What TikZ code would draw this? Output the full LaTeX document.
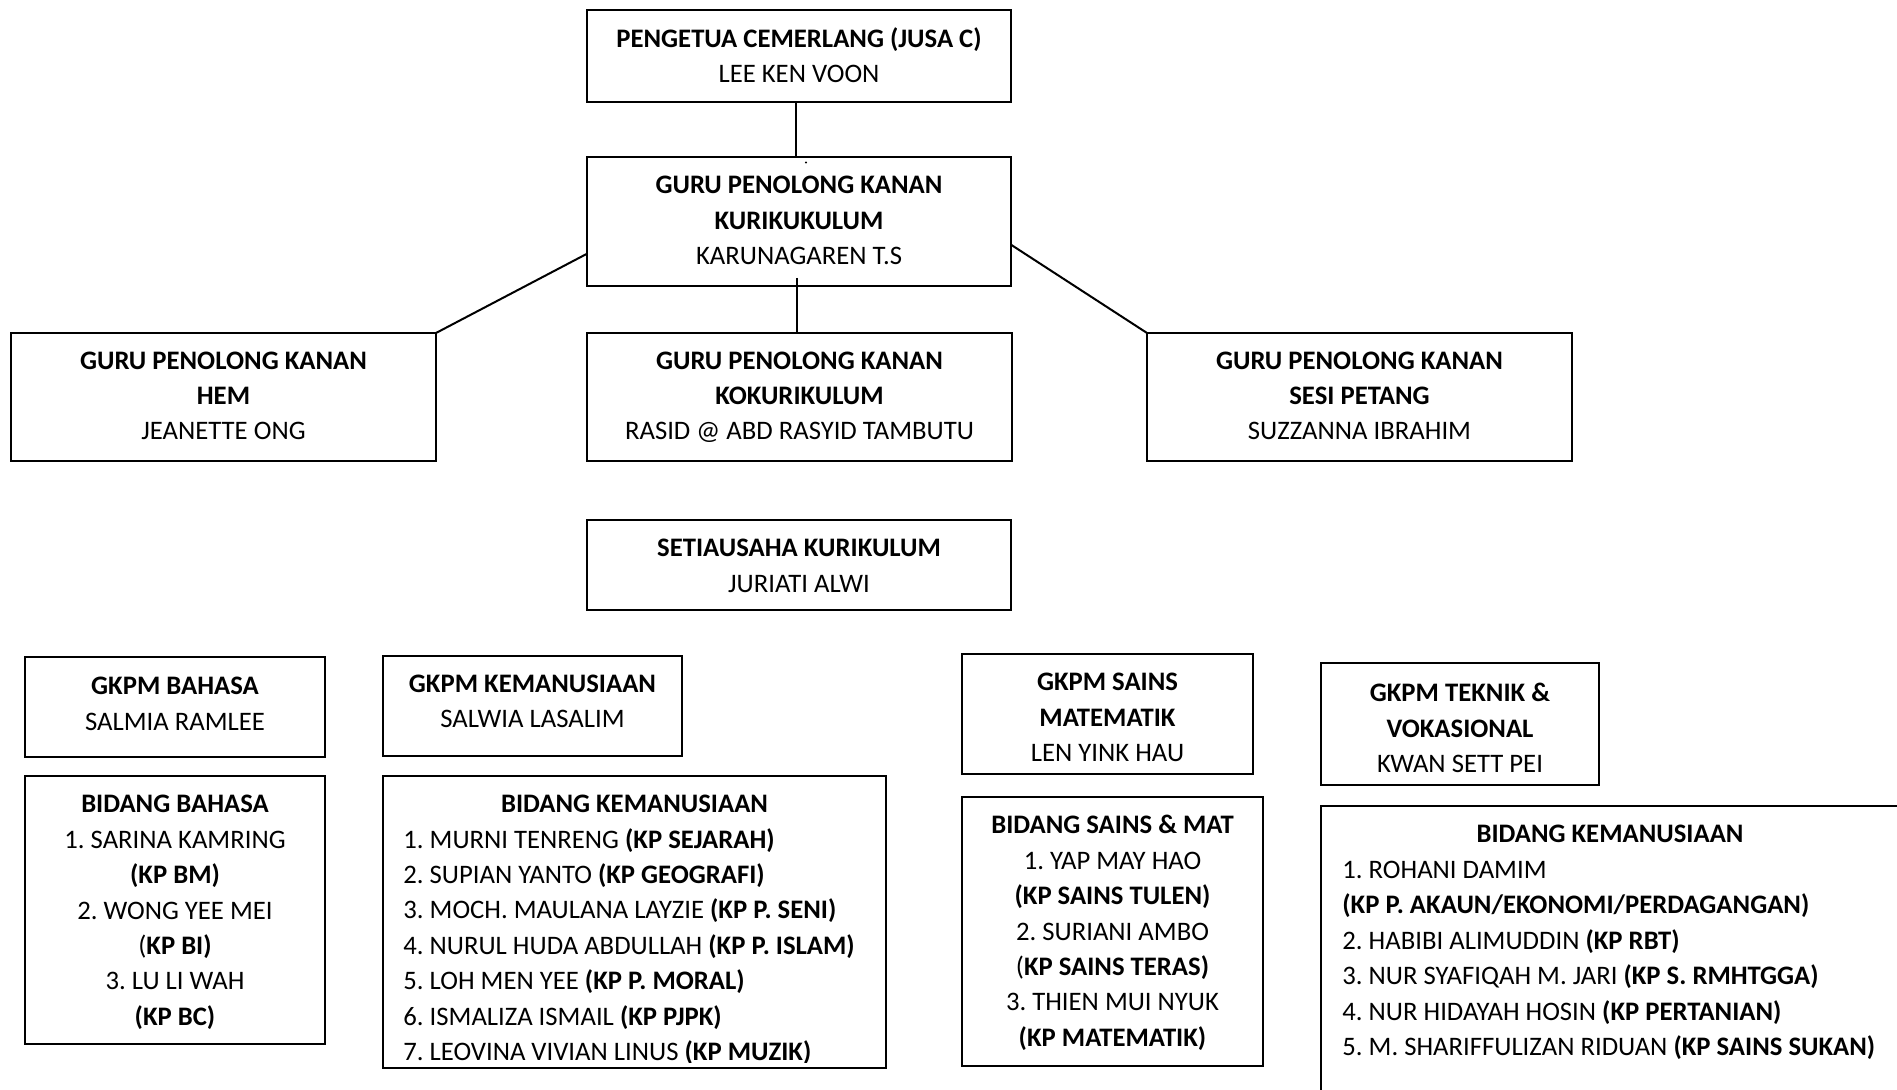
\documentclass[tikz,border=0pt]{standalone}
\usepackage{fontspec}
\setmainfont{Carlito}
\usetikzlibrary{calc}
\frenchspacing
\begin{document}
\begin{tikzpicture}[x=0.5pt,y=-0.5pt,
  box/.style={draw=black, line width=0.75pt, rectangle, inner sep=0pt, outer sep=0pt, anchor=north west},
  txt/.style={align=center, inner sep=0pt, font=\fontsize{13.35pt}{17.7pt}\selectfont\frenchspacing},
  txtl/.style={align=left, inner sep=0pt, anchor=north west, font=\fontsize{13.35pt}{17.7pt}\selectfont\frenchspacing},
  ttl/.style={inner sep=0pt, anchor=base, font=\fontsize{13.35pt}{17.7pt}\selectfont\bfseries},
  link/.style={line width=1pt}]
\useasboundingbox (0,0) rectangle (1897,1090);
\clip (0,0) rectangle (1897,1090);

% top
\node[box, minimum width=212pt, minimum height=46pt] (pengetua) at (587,10) {};
\node[txt] (pengetua-t) at ($(pengetua.center)+(0,2)$) {\strut\textbf{PENGETUA CEMERLANG (JUSA C)}\\\strut LEE KEN VOON};

\node[box, minimum width=212pt, minimum height=64.5pt] (kurikulum) at (587,157) {};
\node[txt] (kurikulum-t) at ($(kurikulum.center)+(0,0.5)$) {\strut\textbf{GURU PENOLONG KANAN}\\\strut\textbf{KURIKUKULUM}\\\strut KARUNAGAREN T.S};

\node[box, minimum width=212.5pt, minimum height=64pt] (hem) at (11,333) {};
\node[txt] (hem-t) at ($(hem.center)+(0,0.5)$) {\strut\textbf{GURU PENOLONG KANAN}\\\strut\textbf{HEM}\\\strut JEANETTE ONG};

\node[box, minimum width=212.5pt, minimum height=64pt] (koko) at (587,333) {};
\node[txt] (koko-t) at ($(koko.center)+(0,0.5)$) {\strut\textbf{GURU PENOLONG KANAN}\\\strut\textbf{KOKURIKULUM}\\\strut RASID @ ABD RASYID TAMBUTU};

\node[box, minimum width=212.5pt, minimum height=64pt] (sesi) at (1147,333) {};
\node[txt] (sesi-t) at ($(sesi.center)+(0,0.5)$) {\strut\textbf{GURU PENOLONG KANAN}\\\strut\textbf{SESI PETANG}\\\strut SUZZANNA IBRAHIM};

\node[box, minimum width=212pt, minimum height=45pt] (setia) at (587,520) {};
\node[txt] (setia-t) at ($(setia.center)+(0,2.5)$) {\strut\textbf{SETIAUSAHA KURIKULUM}\\\strut JURIATI ALWI};

% GKPM heads
\node[box, minimum width=150pt, minimum height=50pt] (gbahasa) at (25,657) {};
\node[txt] (gbahasa-t) at ($(gbahasa.center)+(0,-1.5)$) {\strut\textbf{GKPM BAHASA}\\\strut SALMIA RAMLEE};

\node[box, minimum width=149.5pt, minimum height=50pt] (gkem) at (383,656) {};
\node[txt] (gkem-t) at ($(gkem.center)+(0,-3)$) {\strut\textbf{GKPM KEMANUSIAAN}\\\strut SALWIA LASALIM};

\node[box, minimum width=145.5pt, minimum height=60pt] (gsains) at (962,654) {};
\node[txt] (gsains-t) at ($(gsains.center)+(0,5.2)$) {\strut\textbf{GKPM SAINS}\\\strut\textbf{MATEMATIK}\\\strut LEN YINK HAU};

\node[box, minimum width=139pt, minimum height=61pt] (gteknik) at (1321,663) {};
\node[txt] (gteknik-t) at ($(gteknik.center)+(0,6)$) {\strut\textbf{GKPM TEKNIK \&}\\\strut\textbf{VOKASIONAL}\\\strut KWAN SETT PEI};

% Bidang boxes
\node[box, minimum width=150pt, minimum height=134pt] (bbahasa) at (25,776) {};
\node[txt] (bbahasa-t) at ($(bbahasa.center)+(0,2)$) {\strut\textbf{BIDANG BAHASA}\\\strut 1. SARINA KAMRING\\\strut\textbf{(KP BM)}\\\strut 2. WONG YEE MEI\\\strut (\textbf{KP BI)}\\\strut 3. LU LI WAH\\\strut\textbf{(KP BC)}};

\node[box, minimum width=251.5pt, minimum height=146pt] (bkem) at (383,776) {};
\node[ttl] (bkem-title) at (634.5,812.5) {BIDANG KEMANUSIAAN};
\begin{scope}
\clip (383,776) rectangle (886,1062);
\node[txtl] (bkem-list) at (403,823) {\strut 1. MURNI TENRENG \textbf{(KP SEJARAH)}\\\strut 2. SUPIAN YANTO \textbf{(KP GEOGRAFI)}\\\strut 3. MOCH. MAULANA LAYZIE \textbf{(KP P. SENI)}\\\strut 4. NURUL HUDA ABDULLAH \textbf{(KP P. ISLAM)}\\\strut 5. LOH MEN YEE \textbf{(KP P. MORAL)}\\\strut 6. ISMALIZA ISMAIL \textbf{(KP PJPK)}\\\strut 7. LEOVINA VIVIAN LINUS \textbf{(KP MUZIK)}};
\end{scope}

\node[box, minimum width=150.5pt, minimum height=134.5pt] (bsains) at (962,797) {};
\node[txt] (bsains-t) at ($(bsains.center)+(0,1.5)$) {\strut\textbf{BIDANG SAINS \& MAT}\\\strut 1. YAP MAY HAO\\\strut\textbf{(KP SAINS TULEN)}\\\strut 2. SURIANI AMBO\\\strut (\textbf{KP SAINS TERAS)}\\\strut 3. THIEN MUI NYUK\\\strut\textbf{(KP MATEMATIK)}};

\node[box, minimum width=300pt, minimum height=160pt] (bkem2) at (1321,806) {};
\node[ttl] (bkem2-title) at (1610,842) {BIDANG KEMANUSIAAN};
\node[txtl] (bkem2-list) at (1342,853.4) {\strut 1. ROHANI DAMIM\\\strut\textbf{(KP P. AKAUN/EKONOMI/PERDAGANGAN)}\\\strut 2. HABIBI ALIMUDDIN \textbf{(KP RBT)}\\\strut 3. NUR SYAFIQAH M. JARI \textbf{(KP S. RMHTGGA)}\\\strut 4. NUR HIDAYAH HOSIN \textbf{(KP PERTANIAN)}\\\strut 5. M. SHARIFFULIZAN RIDUAN \textbf{(KP SAINS SUKAN)}};

% connectors
\draw[link] ($(pengetua.south)+(-3,0)$) -- ($(kurikulum.north)+(-3,0)$);
\draw[link] ($(kurikulum.south)+(-2,-8)$) -- ($(koko.north)+(-2.5,0)$);
\draw[link] ($(kurikulum.south west)!0.25!(kurikulum.north west)$) -- (hem.north east);
\draw[link] ($(kurikulum.south east)!0.32!(kurikulum.north east)$) -- (sesi.north west);
\fill (806,162.5) circle (1.2);
\end{tikzpicture}
\end{document}
